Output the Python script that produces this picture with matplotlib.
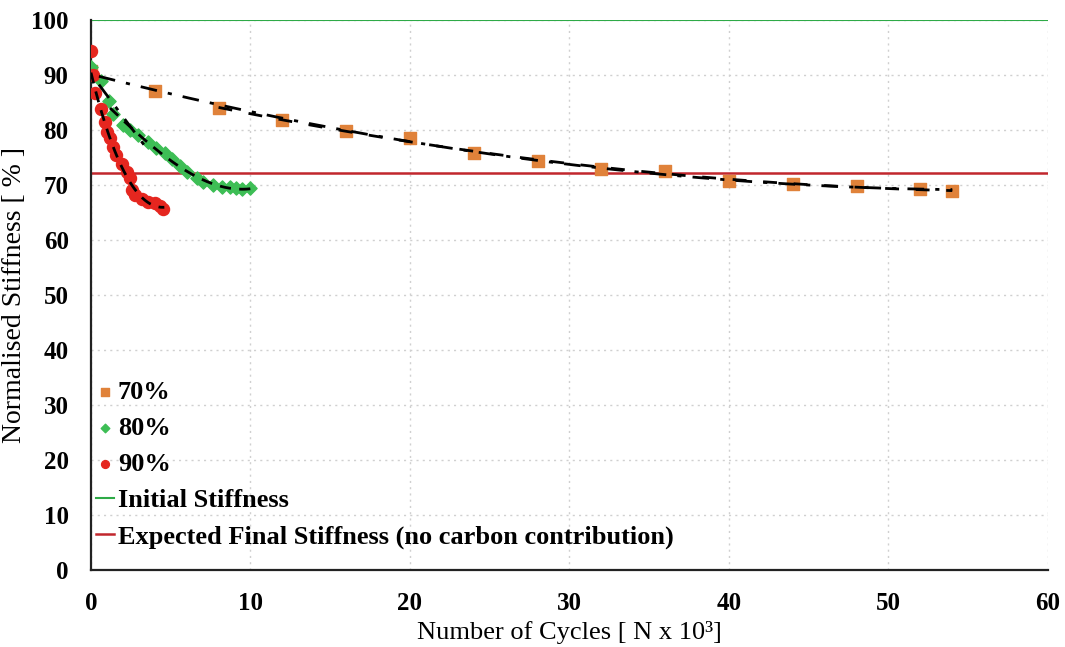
import numpy as np
import matplotlib
matplotlib.use("Agg")
import matplotlib.pyplot as plt

# ---- data ----
x70 = [0, 4, 8, 12, 16, 20, 24, 28, 32, 36, 40, 44, 48, 52, 54]
y70 = [90.8, 87.1, 84.0, 81.8, 79.8, 78.5, 75.9, 74.3, 73.0, 72.5, 70.8, 70.2, 69.8, 69.2, 68.9]

x80 = [0.0, 0.6, 1.15, 1.4, 2.0, 2.45, 2.97, 3.6, 4.1, 4.64, 5.06, 5.58, 6.0, 6.63, 7.0, 7.65, 8.2, 8.7, 9.1, 9.5, 10.0]
y80 = [91.5, 89.0, 85.3, 83.0, 80.9, 80.0, 79.1, 77.9, 76.8, 75.8, 74.7, 73.5, 72.4, 71.2, 70.6, 70.0, 69.6, 69.6, 69.4, 69.2, 69.4]

x90 = [0.0, 0.1, 0.25, 0.6, 0.88, 0.98, 1.19, 1.4, 1.6, 1.92, 2.24, 2.45, 2.55, 2.76, 3.18, 3.6, 4.0, 4.3, 4.5]
y90 = [94.3, 90.0, 86.8, 83.8, 81.5, 79.7, 78.5, 77.0, 75.5, 73.9, 72.4, 71.2, 69.1, 68.2, 67.4, 67.0, 66.8, 66.1, 65.6]

initial_stiffness = 100.0
expected_final = 72.2

xticks = [0, 10, 20, 30, 40, 50, 60]
yticks = list(range(0, 101, 10))

c70 = "#E0823A"
c80 = "#3DBE55"
c90 = "#E5261F"
c_init = "#2EAA47"
c_final = "#C1272D"

plt.rcParams["font.family"] = ["Liberation Serif", "DejaVu Serif"]

fig = plt.figure(figsize=(10.65, 6.47), dpi=100)
ax = fig.add_axes([0.0854, 0.119, 0.8986, 0.850])

ax.axhline(initial_stiffness, color=c_init, lw=1.5, zorder=2, label="Initial Stiffness")
ax.axhline(expected_final, color=c_final, lw=1.8, zorder=2,
           label="Expected Final Stiffness (no carbon contribution)")

# trend lines fitted from the data
def fit_line(xs, ys, deg, x0, x1, style, lw=2.0):
    xs = np.asarray(xs); ys = np.asarray(ys)
    p = np.polyfit(xs, ys, deg)
    xx = np.linspace(x0, x1, 200)
    ax.plot(xx, np.polyval(p, xx), color="black", ls=style, lw=lw, zorder=4)

x70a = np.asarray(x70); y70a = np.asarray(y70)
fit_line(x70a, y70a, 2, 0.5, 54, (0, (6, 4, 1.5, 4)))
fit_line(x70a[2:], y70a[2:], 2, 8, 54, (0, (5, 6)))

x80a = np.asarray(x80); y80a = np.asarray(y80)
fit_line(x80a[2:], y80a[2:], 3, 1.2, 10.5, (0, (4, 3)))
fit_line(x80a[:8], y80a[:8], 1, 0.5, 3.5, (0, (6, 4, 1.5, 4)))

x90a = np.asarray(x90); y90a = np.asarray(y90)
fit_line(x90a[1:], y90a[1:], 3, 0.0, 4.6, (0, (4, 3)))

ax.scatter(x70, y70, marker="s", s=75, color=c70, zorder=3, label="70%")
ax.scatter(x80, y80, marker="D", s=45, color=c80, zorder=3, label="80%")
ax.scatter(x90, y90, marker="o", s=75, color=c90, zorder=3, label="90%")

ax.set_xlim(0, 60)
ax.set_ylim(0, 100)
ax.set_xticks(xticks)
ax.set_yticks(yticks)
ax.grid(True, color="#D0D0D0", ls=(0, (1.5, 3)), lw=1.0)
ax.set_axisbelow(True)
for s in ["top", "right"]:
    ax.spines[s].set_visible(False)
for s in ["left", "bottom"]:
    ax.spines[s].set_linewidth(1.6)
    ax.spines[s].set_color("#222222")
ax.tick_params(axis="y", length=0, labelsize=18, pad=16)
ax.tick_params(axis="x", length=0, labelsize=18, pad=16)
for lab in ax.get_xticklabels() + ax.get_yticklabels():
    lab.set_fontweight("bold")

ax.set_xlabel("Number of Cycles [ N x 10³]", fontsize=19, labelpad=4)
ax.set_ylabel("Normalised Stiffness [ % ]", fontsize=20, labelpad=3)

h, l = ax.get_legend_handles_labels()
order = [2, 3, 4, 0, 1]
leg = ax.legend([h[i] for i in order], [l[i] for i in order], loc="lower left",
                bbox_to_anchor=(-0.02, -0.005), frameon=False,
                handlelength=0.7, handletextpad=0.15, labelspacing=0.48,
                markerscale=0.65, prop={"weight": "bold", "size": 19})
fig.savefig("out.png", dpi=100)
